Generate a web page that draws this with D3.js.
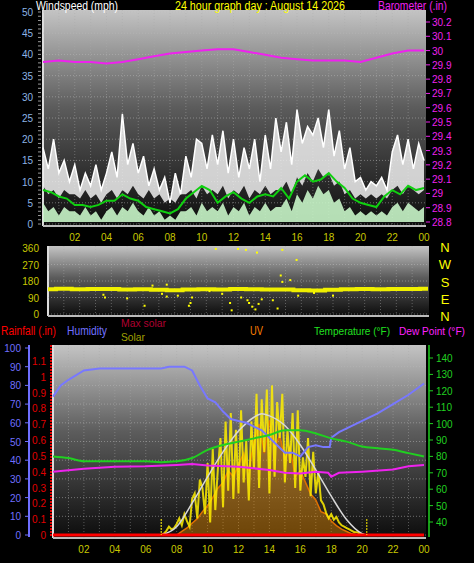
<!DOCTYPE html>
<html><head><meta charset="utf-8">
<script src="https://cdn.jsdelivr.net/npm/d3@7"></script>
<style>body{margin:0;background:#000}text{font-family:"Liberation Sans",Arial,sans-serif}</style>
</head><body><div id="chart"></div>
<script>
// tick labels for the time axes
var hourLabels = ["02","04","06","08","10","12","14","16","18","20","22","00"];

// wind, 20 minute samples (mph)
var windGust = [18,13,20,12,15,10,14,8,12,9,14,8,12,17,11,26,14,19,12,16,9,13,8,11,5,12,7,16,11,20,19,13,21,14,22,12,20,11,18,13,20,10,21,13,25,17,24,14,27,19,23,21,25,18,27,16,22,13,18,10,11,8,10,9,11,8,17,21,14,20,13,19,15];
var windSpeed = [5,3,4,2,4,3,3,2,4,2,3,1,3,4,2,4,3,5,3,2,4,2,3,1,2,1,3,3,4,2,5,3,4,3,5,2,4,3,5,2,4,3,5,3,4,4,6,3,7,5,8,6,9,7,8,5,6,3,4,2,3,2,3,2,3,2,4,5,3,5,4,3,4];
// average wind, 30 minute samples
var windAvg = [8,7.5,6.5,6,4.5,4.5,4,4.5,5.5,5.5,7,6,5.5,4,3.5,3,2.5,3.5,6,7.5,9,8,5,6.5,7.5,6,5,6.5,7,6.5,8.5,6,10,11.5,10,10.5,12,10,8.5,6,5,4.5,4,6.5,8,7,9,8,8.5];
// barometer, hourly (in)
var baro = [29.92,29.93,29.92,29.92,29.91,29.92,29.94,29.96,29.98,29.99,30.0,30.01,30.01,29.99,29.97,29.95,29.94,29.93,29.93,29.93,29.92,29.95,29.98,30.0,30.0];

// wind direction, hourly (deg) plus scattered readings [hour, deg]
var windDir = [135,138,135,137,136,134,135,132,130,133,135,134,136,135,133,134,130,128,132,135,136,135,136,137,138];
var dirScatter = [[3.5,105],[3.6,90],[5,85],[6.1,45],[7.2,110],[7.5,95],[8.2,100],[8.9,45],[9,60],[9.1,90],[10.6,355],[11.5,60],[11.6,20],[12,355],[12.2,90],[12.5,350],[12.6,75],[12.7,60],[12.9,40],[13.1,25],[13.2,335],[13.3,55],[13.5,80],[14.2,75],[14.5,30],[14.7,210],[14.8,175],[14.8,350],[15.3,185],[15.7,295],[15.8,100],[6.6,155],[7.5,160],[10.2,125],[11,110],[16.8,115],[18,100]];

// humidity (%), [hour, value]
var humidity = [[0,74],[0.5,80],[1,83],[2,88],[3,89],[4,89],[5,89],[6,89],[7,89],[7.5,90],[8,90],[8.5,90],[9,88],[9.5,80],[10,73],[10.5,71],[11,66],[11.5,62],[12,61],[12.5,60],[13,58],[13.5,56],[14,52],[14.5,48],[15,44],[15.5,44],[16,42],[16.5,47],[17,48],[17.5,47],[17.9,47],[18,52],[18.5,55],[19,57],[20,61],[21,65],[22,70],[23,75],[24,81]];
// temperature and dew point, hourly (F)
var temperature = [80,79,77,77,77,77,77,76.5,77,79,84,87,89,91,93,96,96,94,91,89,86,85,84,82,80];
var dewPoint = [[0,70.7],[2,72.5],[4,73.7],[6,74],[8,74.8],[9,75.4],[10,74.5],[12,73.7],[14,71.7],[15,70],[16,69.6],[17,70.7],[17.8,70],[18,67.6],[18.5,70],[20,70.7],[22,72],[23,74],[24,74.8]];
// max solar, [hour, W/m2]
var maxSolar = [[7,0],[8,60],[9,230],[10,420],[11,600],[12,750],[13,850],[13.5,875],[14,860],[15,790],[16,650],[17,470],[18,280],[19,110],[20,10],[20.3,0]];
// solar, 10 minute samples from 07:00
var solar = [0,10,30,60,40,50, 80,120,70,150,100,60, 260,300,120,400,340,150, 520,90,620,180,480,700, 200,820,320,880,260,760, 300,900,380,680,250,820, 480,1020,340,980,600,1050, 300,1080,420,960,700,1020, 380,760,520,880,340,900, 320,560,420,700,280,600, 300,460,250,220,160,120, 150,110,130,90,70,60, 50,40,30,20,20,10, 5,0,0,0];
// UV index, 20 minute samples from 08:00
var uv = [0,0.3,0.6,1,1.4,2,2.5,3.2,4,4.5,5.5,5,6,7,5.5,8,9.5,7,9.8,7.5,8.5,6.5,7.5,5,5.5,4.5,3.5,3,2,1.8,1.2,0.8,0.5,0.3,0.1,0,0];
// rainfall, hourly (in)
var rain = [0,0,0,0,0,0,0,0,0,0,0,0,0,0,0,0,0,0,0,0,0,0,0,0,0];
var sunMarks = [7.0, 20.3];

var svg = d3.select("#chart").append("svg").attr("width", 474).attr("height", 563);
svg.append("rect").attr("width", 474).attr("height", 563).attr("fill", "#000");

var grad = svg.append("defs").append("linearGradient").attr("id", "bg")
  .attr("x1", 0).attr("x2", 0).attr("y1", 0).attr("y2", 1);
grad.append("stop").attr("offset", "0%").attr("stop-color", "#c4c4c4");
grad.append("stop").attr("offset", "45%").attr("stop-color", "#5c5c5c");
grad.append("stop").attr("offset", "100%").attr("stop-color", "#0c0c0c");

function panel(x0, x1, y0, y1) {
  svg.append("rect").attr("x", x0).attr("y", y0).attr("width", x1 - x0).attr("height", y1 - y0).attr("fill", "url(#bg)");
  svg.append("line").attr("x1", x0).attr("x2", x0).attr("y1", y0).attr("y2", y1).attr("stroke", "#ddd").attr("stroke-width", 2);
  svg.append("line").attr("x1", x0).attr("x2", x1).attr("y1", y1).attr("y2", y1).attr("stroke", "#bbb").attr("stroke-width", 2);
}
function grid(x, ys, x0, x1, y0, y1) {
  d3.range(1, 24).forEach(function(h) {
    svg.append("line").attr("x1", x(h)).attr("x2", x(h)).attr("y1", y0).attr("y2", y1)
      .attr("stroke", "#aaa").attr("stroke-opacity", 0.45).attr("stroke-dasharray", "1,2");
  });
  ys.forEach(function(y) {
    svg.append("line").attr("x1", x0).attr("x2", x1).attr("y1", y).attr("y2", y)
      .attr("stroke", "#bbb").attr("stroke-opacity", 0.5).attr("stroke-dasharray", "1,2");
  });
}
function timeLabels(x, y) {
  hourLabels.forEach(function(t, i) {
    svg.append("text").attr("x", x((i + 1) * 2)).attr("y", y).attr("text-anchor", "middle")
      .attr("font-size", 10).attr("fill", "#c8c800").text(t);
  });
}
function label(x, y, txt, col, size, anchor, len) {
  var t = svg.append("text").attr("x", x).attr("y", y).attr("fill", col).attr("font-size", size || 12)
    .attr("text-anchor", anchor || "start").text(txt);
  if (len) t.attr("textLength", len).attr("lengthAdjust", "spacingAndGlyphs");
}

// ---------- top panel: wind and barometer ----------
var xTop = d3.scaleLinear().domain([0, 24]).range([43, 424]);
var windY = d3.scaleLinear().domain([0, 50]).range([224, 12]);
var baroY = d3.scaleLinear().domain([28.8, 30.2]).range([222, 22]);
panel(43, 426, 10, 226);
grid(xTop, d3.range(0, 51, 5).map(windY), 43, 426, 10, 226);

var t20 = function(i) { return i / 3; };
svg.append("path").datum(windGust)
  .attr("d", d3.area().x(function(d, i) { return xTop(t20(i)); }).y0(function(d, i) { return windY(windSpeed[i] + 4); }).y1(function(d) { return windY(d); }))
  .attr("fill", "#eee").attr("fill-opacity", 0.85);
svg.append("path").datum(windGust)
  .attr("d", d3.line().x(function(d, i) { return xTop(t20(i)); }).y(function(d) { return windY(d); }))
  .attr("fill", "none").attr("stroke", "#fff").attr("stroke-width", 1.5);
svg.append("path").datum(windSpeed)
  .attr("d", d3.area().x(function(d, i) { return xTop(t20(i)); }).y0(windY(0.5)).y1(function(d) { return windY(d); }))
  .attr("fill", "#c8f5c8").attr("fill-opacity", 0.9);
svg.append("path").datum(windAvg)
  .attr("d", d3.line().x(function(d, i) { return xTop(i / 2); }).y(function(d) { return windY(d); }))
  .attr("fill", "none").attr("stroke", "#10d010").attr("stroke-width", 2);
svg.append("path").datum(baro)
  .attr("d", d3.line().x(function(d, i) { return xTop(i); }).y(function(d) { return baroY(d); }))
  .attr("fill", "none").attr("stroke", "#ee22ee").attr("stroke-width", 2);

d3.range(0, 51, 5).forEach(function(v) {
  label(33, windY(v) + 4, v, "#8cb4e6", 10, "end");
});
d3.range(0, 51, 1).forEach(function(v) {
  svg.append("line").attr("x1", 38).attr("x2", 41).attr("y1", windY(v)).attr("y2", windY(v)).attr("stroke", "#999");
});
d3.range(28.8, 30.25, 0.1).forEach(function(v) {
  label(432, baroY(v) + 4, d3.format(".1f")(v).replace(/\.0$/, ""), "#ee22ee", 10);
  svg.append("line").attr("x1", 426).attr("x2", 430).attr("y1", baroY(v)).attr("y2", baroY(v)).attr("stroke", "#ee22ee");
});
label(36, 10, "Windspeed (mph)", "#fff", 12, "start", 82);
label(175, 10, "24 hour graph day : August 14 2026", "#ffff00", 12, "start", 170);
label(378, 10, "Barometer (.in)", "#ee22ee", 12, "start", 69);
timeLabels(xTop, 241);

// ---------- middle panel: wind direction ----------
var xMid = d3.scaleLinear().domain([0, 24]).range([48, 428]);
var dirY = d3.scaleLinear().domain([0, 360]).range([314, 248]);
panel(48, 429, 246, 316);
grid(xMid, [0, 90, 180, 270].map(dirY), 48, 429, 246, 316);
svg.append("path").datum(windDir)
  .attr("d", d3.line().x(function(d, i) { return xMid(i); }).y(function(d) { return dirY(d); }).curve(d3.curveStep))
  .attr("fill", "none").attr("stroke", "#f0f000").attr("stroke-width", 4);
svg.selectAll(null).data(dirScatter).enter().append("rect")
  .attr("x", function(d) { return xMid(d[0]) - 1; }).attr("y", function(d) { return dirY(d[1]) - 1; })
  .attr("width", 2).attr("height", 2).attr("fill", "#ffff00");
[0, 90, 180, 270, 360].forEach(function(v) {
  label(39, dirY(v) + 4, v, "#c8c800", 10, "end");
});
["N","W","S","E","N"].forEach(function(t, i) {
  label(445, 252 + i * 17.3, t, "#ffff00", 13, "middle");
});

// ---------- bottom panel ----------
var xBot = d3.scaleLinear().domain([0, 24]).range([53, 424]);
var humY = d3.scaleLinear().domain([0, 100]).range([535, 348]);
var rainY = d3.scaleLinear().domain([0, 1.1]).range([535, 361]);
var tempY = d3.scaleLinear().domain([40, 140]).range([522, 358]);
var solarY = d3.scaleLinear().domain([0, 1350]).range([535, 348]);
var uvY = d3.scaleLinear().domain([0, 16]).range([535, 348]);
panel(53, 426, 345, 538);
grid(xBot, d3.range(0, 101, 10).map(humY), 53, 426, 345, 538);

svg.append("path").datum(uv)
  .attr("d", d3.area().x(function(d, i) { return xBot(8 + i / 3); }).y0(solarY(0)).y1(function(d) { return uvY(d); }))
  .attr("fill", "#ff9900").attr("fill-opacity", 0.4);
svg.append("path").datum(uv)
  .attr("d", d3.line().x(function(d, i) { return xBot(8 + i / 3); }).y(function(d) { return uvY(d); }))
  .attr("fill", "none").attr("stroke", "#e07000").attr("stroke-width", 1.5);
svg.append("path").datum(solar)
  .attr("d", d3.line().x(function(d, i) { return xBot(7 + i / 6); }).y(function(d) { return solarY(d); }))
  .attr("fill", "none").attr("stroke", "#ffee00").attr("stroke-width", 2).attr("stroke-opacity", 0.85);
svg.append("path").datum(maxSolar)
  .attr("d", d3.line().x(function(d) { return xBot(d[0]); }).y(function(d) { return solarY(d[1]); }).curve(d3.curveMonotoneX))
  .attr("fill", "none").attr("stroke", "#d8d8d8").attr("stroke-width", 1.5);
svg.append("path").datum(humidity)
  .attr("d", d3.line().x(function(d) { return xBot(d[0]); }).y(function(d) { return humY(d[1]); }))
  .attr("fill", "none").attr("stroke", "#7878ff").attr("stroke-width", 2);
svg.append("path").datum(temperature)
  .attr("d", d3.line().x(function(d, i) { return xBot(i); }).y(function(d) { return tempY(d); }).curve(d3.curveMonotoneX))
  .attr("fill", "none").attr("stroke", "#20d020").attr("stroke-width", 2);
svg.append("path").datum(dewPoint)
  .attr("d", d3.line().x(function(d) { return xBot(d[0]); }).y(function(d) { return tempY(d[1]); }))
  .attr("fill", "none").attr("stroke", "#ee22ee").attr("stroke-width", 2);
svg.append("path").datum(rain)
  .attr("d", d3.line().x(function(d, i) { return xBot(i); }).y(function(d) { return rainY(d); }))
  .attr("fill", "none").attr("stroke", "#ff0000").attr("stroke-width", 3);
sunMarks.forEach(function(h) {
  svg.append("line").attr("x1", xBot(h)).attr("x2", xBot(h)).attr("y1", 519).attr("y2", 535)
    .attr("stroke", "#ffee00").attr("stroke-dasharray", "2,1");
});

// axes of the bottom panel
svg.append("line").attr("x1", 29).attr("x2", 29).attr("y1", 345).attr("y2", 537).attr("stroke", "#6f6fff").attr("stroke-width", 2);
d3.range(0, 101, 10).forEach(function(v) {
  label(21, humY(v) + 4, v, "#6f6fff", 10, "end");
  svg.append("line").attr("x1", 25).attr("x2", 29).attr("y1", humY(v)).attr("y2", humY(v)).attr("stroke", "#6f6fff");
});
svg.append("line").attr("x1", 51).attr("x2", 51).attr("y1", 345).attr("y2", 537).attr("stroke", "#e00000").attr("stroke-width", 2).attr("stroke-dasharray", "2,1");
d3.range(0, 12).forEach(function(i) {
  var v = i / 10;
  label(46, rainY(v) + 4, d3.format("")(+v.toFixed(1)), "#e00000", 10, "end");
});
svg.append("line").attr("x1", 429).attr("x2", 429).attr("y1", 345).attr("y2", 537).attr("stroke", "#20d020").attr("stroke-width", 1.5);
d3.range(40, 141, 10).forEach(function(v) {
  label(436, tempY(v) + 4, v, "#20d020", 10);
  svg.append("line").attr("x1", 429).attr("x2", 433).attr("y1", tempY(v)).attr("y2", tempY(v)).attr("stroke", "#20d020");
});
timeLabels(xBot, 553);

label(1, 335, "Rainfall (.in)", "#ff0000", 12, "start", 55);
label(67, 335, "Humidity", "#7070ff", 12, "start", 40);
label(121, 327, "Max solar", "#b00030", 11, "start", 45);
label(121, 341, "Solar", "#a0a000", 11, "start", 24);
label(250, 335, "UV", "#ff8000", 12, "start", 13);
label(314, 335, "Temperature (°F)", "#20e020", 11, "start", 76);
label(399, 335, "Dew Point (°F)", "#ff22ff", 10.5, "start", 66);
</script></body></html>
